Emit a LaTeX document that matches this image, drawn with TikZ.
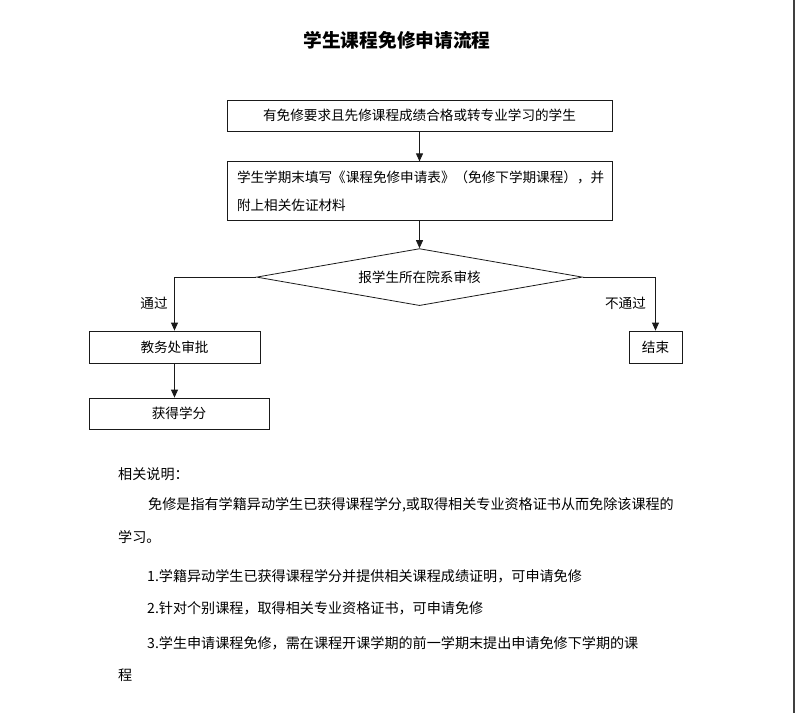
\documentclass[tikz,border=0pt]{standalone}
\usepackage{fontspec}
\setmainfont{Noto Sans CJK SC}
\usepackage{xcolor}
\usetikzlibrary{arrows.meta, positioning, shapes.geometric}
\definecolor{flowline}{HTML}{1A1A1A}
\definecolor{pageedge}{HTML}{404040}

\begin{document}
\begin{tikzpicture}[
  x=1pt, y=-1pt,
  node distance=30pt and 20pt,
  box/.style={draw=flowline, line width=0.8pt, minimum height=31pt, inner sep=0pt,
    font=\fontsize{13.6}{28}\selectfont},
  check/.style={diamond, draw=flowline, line width=0.8pt, aspect=5.7, minimum width=326pt,
    minimum height=57pt, inner sep=0pt, font=\fontsize{13.6}{16}\selectfont},
  branch/.style={inner sep=0pt, font=\fontsize{13.6}{16}\selectfont},
  note/.style={anchor=west, inner sep=0pt, font=\fontsize{14.1}{16}\selectfont},
  arrow/.style={-{Triangle[length=8pt, width=7pt]}, line width=0.8pt, draw=flowline}
]
\useasboundingbox (0,0) rectangle (795,713);
\node[font=\fontsize{18.7}{22}\selectfont\bfseries] (title) at (397,40) {学生课程免修申请流程};
\node[box, minimum width=385pt] (student) at (419.5,115.5) {有免修要求且先修课程成绩合格或转专业学习的学生};
\node[box, minimum width=385pt, minimum height=59pt, text width=365pt, inner xsep=10pt,
  align=left, below=30pt of student] (form) {学生学期末填写《课程免修申请表》（免修下学期课程），并\\附上相关佐证材料};
\node[check, below=27pt of form] (review) {报学生所在院系审核};
\node[box, minimum width=171pt, minimum height=32pt] (approve) at (174.5,347) {教务处审批};
\node[box, minimum width=180pt] (credit) at (179,413.5) {获得学分};
\node[box, minimum width=53pt, minimum height=32pt] (finish) at (655.5,347) {结束};
\node[branch] (pass) at (154,303) {通过};
\node[branch] (fail) at (625.5,303) {不通过};
\draw[arrow] (student) -- (form);
\draw[arrow] (form) -- (review);
\draw[arrow] (review.west) -| (approve.north);
\draw[arrow] (review.east) -| (finish.north);
\draw[arrow] (approve.south) -- (approve.south |- credit.north);
% notes below the chart
\node[note] (note0) at (118,474) {相关说明：};
\node[note] (note1) at (148,505) {免修是指有学籍异动学生已获得课程学分,或取得相关专业资格证书从而免除该课程的};
\node[note] (note2) at (118,537) {学习。};
\node[note] (note3) at (147,576) {1.学籍异动学生已获得课程学分并提供相关课程成绩证明，可申请免修};
\node[note] (note4) at (147,608) {2.针对个别课程，取得相关专业资格证书，可申请免修};
\node[note] (note5) at (147,643) {3.学生申请课程免修，需在课程开课学期的前一学期末提出申请免修下学期的课};
\node[note] (note6) at (118,675) {程};
\draw[pageedge, line width=2pt] (794,0) -- (794,713);
\end{tikzpicture}
\end{document}
